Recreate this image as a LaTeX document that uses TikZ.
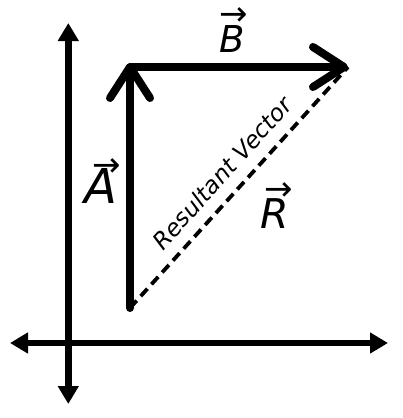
\documentclass[tikz,border=0pt]{standalone}
\usepackage{fontspec}
\setmainfont{DejaVu Sans}
\usetikzlibrary{arrows.meta}
\begin{document}
\begin{tikzpicture}[x=1pt,y=-1pt,
  axis/.style={line width=6.5pt,
    {Triangle[length=18pt,width=20pt]}-{Triangle[length=18pt,width=20pt]}},
  vecline/.style={line width=8pt, line cap=round,
    -{Straight Barb[length=31pt,width=40pt,line width=8pt,round]}},
  resline/.style={line width=3.8pt, dash pattern=on 10pt off 6pt},
  letter/.style={inner sep=0pt, anchor=base},
  vecarrow/.style={inner sep=0pt, font=\fontsize{34}{34}\selectfont}]
\useasboundingbox (0,0) rectangle (403,418);
% axes
\coordinate (xl) at (10,343);
\coordinate (xr) at (388,343);
\coordinate (yt) at (68.3,23);
\coordinate (yb) at (68.3,404);
\draw[axis] (xl) -- (xr);
\draw[axis] (yb) -- (yt);
% vectors
\coordinate (O) at (130,308);
\coordinate (P) at (130,63);
\coordinate (Pb) at (130,67);
\coordinate (Q) at (348,67);
\draw[resline] (O) -- (Q);
\draw[vecline] (O) -- (P);
\draw[vecline] (Pb) -- (Q);
% labels
\node[letter, font=\itshape\fontsize{48}{48}\selectfont] (Alab) at (101,203) {A};
\node[vecarrow] (Aarr) at (107,168) {→};
\node[letter, font=\itshape\fontsize{37}{37}\selectfont] (Blab) at (232,52) {B};
\node[vecarrow] (Barr) at (234,17) {→};
\node[letter, font=\itshape\fontsize{41}{41}\selectfont] (Rlab) at (275,228) {R};
\node[vecarrow] (Rarr) at (279,192) {→};
\node[inner sep=0pt, rotate=48, font=\itshape\fontsize{23.5}{23.5}\selectfont] (res) at (222,173) {Resultant Vector};
\end{tikzpicture}
\end{document}
